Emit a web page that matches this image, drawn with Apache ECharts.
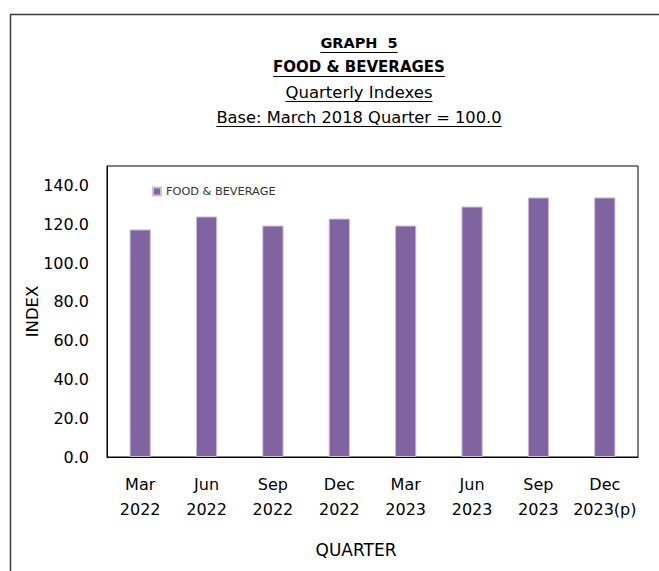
<!DOCTYPE html>
<html>
<head>
<meta charset="utf-8">
<script src="https://cdn.jsdelivr.net/npm/echarts@6/dist/echarts.min.js"></script>
<style>
html,body{margin:0;padding:0;background:#fff;}
#chart{width:659px;height:571px;}
</style>
</head>
<body>
<div id="chart"></div>
<script>
var categories = ['Mar\n2022','Jun\n2022','Sep\n2022','Dec\n2022','Mar\n2023','Jun\n2023','Sep\n2023','Dec\n2023(p)'];
var foodValues = [117.3, 124.0, 119.3, 122.9, 119.3, 129.1, 133.8, 133.8];
var titleLines = ['GRAPH  5', 'FOOD & BEVERAGES', 'Quarterly Indexes', 'Base: March 2018 Quarter = 100.0'];
var seriesName = 'FOOD & BEVERAGE';

var FONT = 'DejaVu Sans';
var chart = echarts.init(document.getElementById('chart'), null, {renderer: 'svg'});

var ctx = document.createElement('canvas').getContext('2d');
function textWidth(t, size, weight){
  ctx.font = (weight || 'normal') + ' ' + size + 'px "' + FONT + '"';
  return ctx.measureText(t).width;
}

var titleStyles = [
  {y: 43, size: 14.5, weight: 'bold'},
  {y: 67, size: 15, weight: 'bold'},
  {y: 92, size: 16.5, weight: 'normal'},
  {y: 117, size: 16.3, weight: 'normal'}
];
var cx = 359;
var graphics = [
  {type: 'rect', shape: {x: 10.5, y: 14.5, width: 700, height: 600},
   style: {fill: 'none', stroke: '#3a3a3a', lineWidth: 1.5}, silent: true}
];
titleLines.forEach(function(t, i){
  var s = titleStyles[i];
  var w = textWidth(t, s.size, s.weight);
  graphics.push({type: 'text', x: cx, y: s.y, style: {text: t, x: 0, y: 0, fill: '#000',
    font: s.weight + ' ' + s.size + 'px "' + FONT + '"', textAlign: 'center', textVerticalAlign: 'middle'}});
  graphics.push({type: 'line', shape: {x1: cx - w/2, y1: s.y + 9.5, x2: cx + w/2, y2: s.y + 9.5},
    style: {stroke: '#000', lineWidth: 1}});
});
graphics.push({type: 'text', x: 356, y: 550, style: {text: 'QUARTER', x: 0, y: 0, fill: '#000',
  font: 'normal 17px "' + FONT + '"', textAlign: 'center', textVerticalAlign: 'middle'}});

chart.setOption({
  animation: false,
  textStyle: {fontFamily: FONT},
  graphic: graphics,
  legend: {
    left: 147, top: 181,
    itemWidth: 8, itemHeight: 8, itemGap: 3,
    icon: 'rect',
    textStyle: {fontSize: 11.3, color: '#333', fontFamily: FONT},
    data: [seriesName]
  },
  grid: {left: 107, right: 21, top: 166, bottom: 114, show: true, borderColor: '#000', borderWidth: 1, containLabel: false},
  xAxis: {
    type: 'category',
    data: categories,
    axisLine: {lineStyle: {color: '#000'}},
    axisTick: {show: false},
    axisLabel: {color: '#000', fontSize: 16, lineHeight: 25, margin: 15, interval: 0, fontFamily: FONT}
  },
  yAxis: {
    type: 'value',
    min: 0, max: 150, interval: 20,
    name: 'INDEX', nameLocation: 'middle', nameGap: 66, nameMoveOverlap: false,
    nameTextStyle: {color: '#000', fontSize: 16.5, fontFamily: FONT},
    axisLine: {show: true, lineStyle: {color: '#000'}},
    axisTick: {show: false},
    splitLine: {show: false},
    axisLabel: {color: '#000', fontSize: 16, margin: 18, showMaxLabel: false, fontFamily: FONT,
      formatter: function(v){ return v.toFixed(1); }}
  },
  series: [{
    name: seriesName,
    type: 'bar',
    data: foodValues,
    barWidth: '32%',
    itemStyle: {color: '#8064A2', borderColor: '#c9bddb', borderWidth: 1}
  }]
});
</script>
</body>
</html>
